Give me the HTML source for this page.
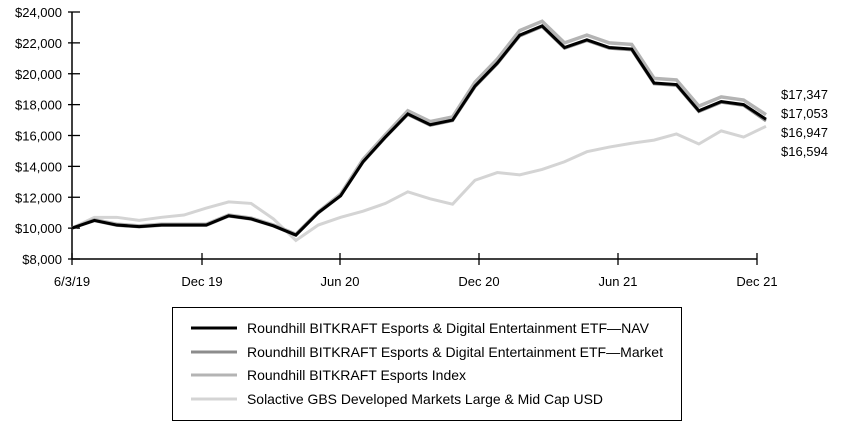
<!DOCTYPE html>
<html><head><meta charset="utf-8"><style>
html,body{margin:0;padding:0;background:#fff;}
svg{display:block;font-family:"Liberation Sans",sans-serif;}
</style></head><body>
<svg id="chart" width="841" height="430" viewBox="0 0 841 430">
<g id="axes"></g>
<g id="series"></g>
<g id="endlabels"></g>
<g>
<rect x="172.5" y="307.5" width="509" height="113" fill="#fff" stroke="#000" stroke-width="1"/>
<g><line x1="191" x2="237" y1="328" y2="328" stroke="#000" stroke-width="3"/><text x="247" y="333" font-size="14" textLength="402" lengthAdjust="spacingAndGlyphs">Roundhill BITKRAFT Esports &amp; Digital Entertainment ETF—NAV</text></g>
<g><line x1="191" x2="237" y1="352" y2="352" stroke="#8c8c8c" stroke-width="3"/><text x="247" y="357" font-size="14" textLength="416" lengthAdjust="spacingAndGlyphs">Roundhill BITKRAFT Esports &amp; Digital Entertainment ETF—Market</text></g>
<g><line x1="191" x2="237" y1="375" y2="375" stroke="#b4b4b4" stroke-width="3"/><text x="247" y="380" font-size="14" textLength="219" lengthAdjust="spacingAndGlyphs">Roundhill BITKRAFT Esports Index</text></g>
<g><line x1="191" x2="237" y1="399" y2="399" stroke="#d4d4d4" stroke-width="3"/><text x="247" y="404" font-size="14" textLength="356" lengthAdjust="spacingAndGlyphs">Solactive GBS Developed Markets Large &amp; Mid Cap USD</text></g>
</g>
</svg>
<script>
const yTicks = [8000,10000,12000,14000,16000,18000,20000,22000,24000];
const xTickLabels = ["6/3/19","Dec 19","Jun 20","Dec 20","Jun 21","Dec 21"];
const xTickIndex = [0,5.6,11.8,18,24.2,30.4];
const navValues = [10000,10500,10200,10100,10200,10200,10200,10800,10600,10150,9550,11000,12100,14300,15900,17400,16700,17000,19200,20700,22500,23100,21700,22200,21700,21600,19400,19300,17600,18200,18000,17053];
const marketValues = [10000,10480,10180,10080,10180,10180,10180,10780,10580,10130,9540,10980,12080,14270,15870,17360,16660,16960,19150,20650,22450,23050,21650,22150,21650,21550,19350,19250,17550,18150,17950,16947];
const indexValues = [10000,10550,10250,10150,10250,10250,10250,10850,10650,10200,9600,11050,12200,14450,16050,17600,16900,17200,19450,20950,22800,23400,22000,22500,22000,21900,19700,19600,17900,18500,18300,17347];
const solactiveValues = [10000,10700,10700,10500,10700,10850,11300,11700,11600,10600,9200,10200,10700,11100,11600,12350,11900,11550,13100,13600,13450,13800,14300,14950,15250,15500,15700,16100,15450,16300,15900,16594];
const endLabels = ["$17,347","$17,053","$16,947","$16,594"];

const NS="http://www.w3.org/2000/svg";
const x0=72,x1=766,yTop=12,yBot=259,vMin=8000,vMax=24000,N=navValues.length;
function xs(i){return x0+i*(x1-x0)/(N-1);}
function ys(v){return yBot-(v-vMin)/(vMax-vMin)*(yBot-yTop);}
function mk(tag,attrs,parent){const e=document.createElementNS(NS,tag);for(const k in attrs)e.setAttribute(k,attrs[k]);parent.appendChild(e);return e;}
const axes=document.getElementById('axes');
const yAxis=mk('line',{x1:x0,x2:x0,y1:yTop,y2:yBot,stroke:'#000','stroke-width':1.5},axes);


const xAxis=mk('line',{x1:x0,x2:757,y1:yBot,y2:yBot,stroke:'#000','stroke-width':1.5},axes);


yTicks.forEach(v=>{
  const y=ys(v);
  const t=mk('line',{x1:x0-4,x2:x0+8,y1:y,y2:y,stroke:'#000','stroke-width':1.3},axes);
  
  
  const l=mk('text',{x:x0-10,y:y+5,'font-size':13,'text-anchor':'end'},axes);
  l.textContent='$'+v.toLocaleString('en-US');
  
  
});
const xPix=[72,202,340,479,618,757];
xTickLabels.forEach((s,k)=>{
  const x=xPix[k];
  const t=mk('line',{x1:x,x2:x,y1:yBot-6,y2:yBot+6,stroke:'#000','stroke-width':1.3},axes);
  
  
  const l=mk('text',{x:x,y:286,'font-size':13,'text-anchor':'middle'},axes);
  l.textContent=s;
  
  
});
const ser=document.getElementById('series');
function draw(vals,color,w,name){
  const p=mk('polyline',{points:vals.map((v,i)=>xs(i)+','+ys(v)).join(' '),fill:'none',stroke:color,'stroke-width':w,'stroke-linejoin':'miter'},ser);
  
  
}
draw(solactiveValues,'#d4d4d4',3,'solactive-line');
draw(indexValues,'#b4b4b4',3.5,'index-line');
draw(marketValues,'#8c8c8c',3,'market-line');
draw(navValues,'#000',3,'nav-line');
const el=document.getElementById('endlabels');
endLabels.forEach((s,k)=>{
  const t=mk('text',{x:781,y:99+k*19,'font-size':13},el);
  t.textContent=s;
  
  
});
</script>
</body></html>
